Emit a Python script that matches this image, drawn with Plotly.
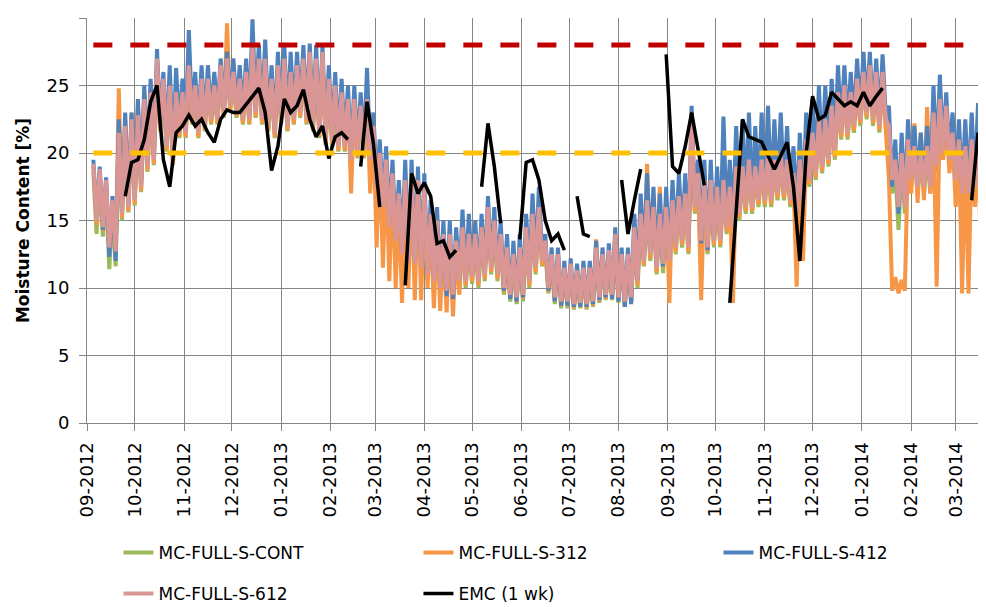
import pandas as pd
import plotly.graph_objects as go

# sampling: one step every 4 days from 2012-09-05; for each step the upper value of the
# daily swing is read at the step date and the lower value two days later
start_date = "2012-09-05"

month_labels = ["09-2012", "10-2012", "11-2012", "12-2012", "01-2013", "02-2013", "03-2013",
                "04-2013", "05-2013", "06-2013", "07-2013", "08-2013", "09-2013", "10-2013",
                "11-2013", "12-2013", "01-2014", "02-2014", "03-2014"]

# MC-FULL-S-CONT
cont_hi = [18.6, 18.2, 17.4, 15.9, 20.9, 21.4, 21.9, 22.2, 23.4, 23.9, 26.4, 24.9, 24.4, 23.9, 23.9, 25.9, 24.4, 24.9, 24.9, 24.4, 25.9, 26.4, 25.4,
           24.9, 25.4, 27.4, 26.4, 26.4, 24.9, 25.9, 26.4, 25.4, 25.9, 26.4, 26.9, 26.4, 26.9, 24.9, 24.4, 23.9, 23.4, 23.4, 22.9, 23.4, 21.4, 19.4, 18.9,
           17.9, 16.4, 17.4, 17.9, 17.4, 16.9, 14.9, 14.4, 13.4, 13.4, 12.9, 13.9, 13.4, 13.4, 13.9, 15.4, 14.4, 13.4, 12.4, 11.9, 12.4, 13.9, 14.9,
           15.4, 12.9, 11.9, 11.9, 10.9, 11.2, 10.7, 10.9, 10.9, 12.4, 11.9, 12.2, 13.4, 11.9, 11.9, 13.9, 14.9, 15.9, 15.4, 14.9, 15.4, 15.9, 16.2, 16.4,
           22.4, 17.9, 17.4, 17.4, 16.9, 17.4, 16.9, 18.4, 18.4, 18.9, 18.4, 18.9, 19.4, 18.9, 19.4, 18.9, 17.9, 18.9, 20.4, 20.9, 21.9, 21.9, 22.9,
           23.9, 24.4, 23.9, 24.9, 25.4, 25.9, 25.4, 25.4, 21.4, 18.9, 19.4, 20.4, 19.9, 19.4, 19.9, 22.4, 23.4, 22.9, 20.9, 20.4, 19.9, 20.4, 19.9, 18.4]
cont_lo = [14.0, 13.8, 11.4, 11.6, 15.0, 15.6, 16.1, 17.1, 18.6, 19.1, 21.6, 20.1, 19.1, 21.1, 21.1, 22.1, 21.1, 21.6, 22.1, 22.1, 22.6, 23.1, 22.6,
           22.1, 22.1, 22.6, 22.1, 21.6, 21.1, 22.1, 21.6, 22.1, 22.6, 22.1, 21.6, 21.1, 20.6, 20.6, 20.1, 20.1, 19.1, 19.6, 19.6, 19.1, 17.1, 15.6, 14.1,
           13.1, 12.1, 11.6, 11.4, 11.1, 10.6, 10.1, 9.6, 9.3, 9.0, 10.0, 10.0, 10.3, 10.0, 10.5, 11.0, 10.5, 9.5, 9.0, 8.8, 9.0, 10.0, 11.0,
           11.6, 9.6, 8.8, 8.5, 8.5, 8.4, 8.5, 8.4, 8.6, 8.9, 9.1, 9.1, 8.9, 8.6, 8.9, 10.0, 11.6, 12.0, 11.0, 11.1, 11.5, 12.5, 13.0, 12.5,
           15.5, 13.0, 12.5, 13.0, 13.0, 14.0, 14.0, 15.0, 15.5, 15.5, 16.0, 16.0, 16.0, 16.5, 16.5, 16.0, 15.0, 15.5, 17.5, 18.0, 18.5, 19.0, 19.5,
           21.0, 21.0, 21.5, 22.0, 22.5, 22.0, 21.5, 22.0, 17.0, 14.3, 15.5, 17.5, 17.0, 17.0, 17.0, 18.5, 19.5, 19.0, 17.5, 16.5, 16.5, 17.0, 16.0, 14.5]

# MC-FULL-S-312
s312_hi = [19.0, 18.6, 17.8, 16.3, 24.8, 22.5, 23.0, 23.5, 24.5, 25.0, 26.5, 25.5, 25.5, 24.5, 24.5, 26.0, 25.0, 25.5, 25.5, 25.5, 26.5, 29.6, 26.0,
           25.5, 26.0, 27.5, 26.5, 26.5, 25.5, 26.0, 26.5, 26.0, 26.0, 26.5, 27.0, 26.5, 27.0, 25.5, 25.0, 24.5, 24.0, 24.0, 23.5, 24.0, 22.0, 20.0, 19.5,
           18.0, 16.5, 17.5, 18.0, 17.5, 17.0, 15.0, 14.5, 13.5, 13.5, 13.0, 14.0, 13.5, 13.5, 14.5, 16.0, 15.0, 13.5, 12.5, 12.0, 12.5, 14.0, 15.5,
           16.0, 13.0, 12.0, 12.0, 11.0, 11.3, 10.8, 11.0, 11.0, 13.6, 12.5, 12.5, 14.0, 12.0, 12.0, 14.5, 16.0, 19.2, 17.0, 17.5, 16.5, 17.0, 16.5, 16.5,
           22.0, 18.0, 17.5, 17.5, 17.0, 17.5, 17.0, 18.5, 18.5, 19.0, 18.5, 19.0, 19.5, 19.0, 19.5, 19.0, 18.0, 19.0, 20.5, 21.0, 22.0, 22.0, 23.0,
           24.0, 24.5, 24.0, 25.0, 25.5, 25.5, 25.0, 25.5, 18.0, 10.8, 10.6, 20.0, 22.2, 21.5, 23.4, 22.0, 23.0, 22.5, 21.0, 20.5, 20.0, 20.5, 20.0, 18.0]
s312_lo = [14.7, 14.2, 12.7, 12.4, 15.2, 15.7, 16.2, 17.2, 18.7, 19.2, 21.7, 20.2, 19.2, 21.2, 21.2, 22.2, 21.2, 21.7, 22.2, 22.2, 22.7, 23.2, 22.7,
           22.2, 22.2, 22.7, 22.2, 21.7, 21.2, 22.2, 21.7, 22.2, 22.7, 22.2, 21.7, 21.2, 20.7, 20.7, 20.2, 20.2, 17.0, 19.7, 19.7, 17.0, 13.0, 11.5, 10.5,
           10.0, 8.9, 10.0, 9.1, 9.1, 10.0, 8.5, 8.3, 8.2, 7.9, 9.5, 10.2, 10.5, 10.2, 10.7, 11.2, 10.7, 9.7, 9.2, 9.0, 9.2, 10.2, 11.2,
           11.7, 9.7, 9.0, 8.7, 8.7, 8.5, 8.6, 8.5, 8.7, 9.0, 9.2, 9.2, 9.0, 8.7, 9.0, 10.2, 11.7, 12.2, 11.2, 11.5, 8.9, 12.7, 13.2, 12.7,
           15.7, 9.1, 12.7, 13.2, 13.2, 14.2, 8.9, 15.2, 15.7, 15.7, 16.2, 16.2, 16.2, 16.7, 16.7, 16.2, 10.1, 12.0, 17.7, 18.2, 18.7, 19.2, 19.7,
           21.2, 21.2, 21.7, 22.2, 22.7, 22.2, 21.7, 22.2, 9.8, 9.6, 9.8, 17.0, 16.3, 16.5, 17.0, 10.1, 19.5, 18.5, 16.0, 9.6, 9.6, 16.0, 12.0, 8.9]

# MC-FULL-S-412
s412_hi = [19.5, 19.0, 18.2, 16.8, 22.5, 23.0, 23.0, 24.0, 25.0, 25.5, 27.7, 26.0, 26.5, 26.3, 25.5, 29.1, 26.0, 26.5, 26.5, 26.0, 27.0, 27.5, 27.0,
           26.5, 27.0, 29.9, 28.0, 28.4, 26.5, 27.5, 28.0, 27.5, 27.5, 28.0, 28.1, 28.0, 28.0, 26.5, 26.0, 25.5, 25.0, 25.0, 24.5, 26.3, 23.0, 21.0, 20.5,
           19.5, 18.0, 19.5, 19.5, 19.0, 18.5, 16.5, 16.0, 15.0, 15.0, 14.5, 15.8, 15.5, 15.0, 15.5, 16.8, 16.0, 15.0, 14.0, 13.5, 14.0, 15.5, 17.0,
           17.5, 14.0, 13.0, 13.0, 12.0, 12.2, 11.8, 12.0, 12.0, 13.5, 13.0, 13.3, 14.5, 13.0, 13.0, 15.5, 17.0, 18.5, 17.5, 17.0, 17.5, 18.0, 18.5, 18.5,
           23.5, 19.5, 19.5, 19.5, 19.0, 22.7, 19.5, 22.0, 22.5, 23.0, 22.0, 23.0, 23.5, 22.5, 23.0, 22.0, 20.5, 21.5, 23.0, 24.0, 25.0, 25.0, 25.5,
           26.5, 26.5, 26.0, 27.0, 27.5, 27.5, 27.0, 27.3, 23.5, 21.0, 21.5, 22.5, 22.0, 21.5, 22.0, 25.0, 25.8, 24.5, 23.0, 22.5, 22.5, 23.0, 23.7, 20.0]
s412_lo = [15.2, 14.3, 12.3, 12.0, 15.8, 16.3, 16.8, 17.8, 19.3, 19.8, 22.3, 20.8, 19.8, 21.8, 21.8, 22.8, 21.8, 22.3, 22.8, 22.8, 23.3, 23.8, 23.3,
           22.8, 22.8, 23.3, 22.8, 22.3, 21.8, 22.8, 22.3, 22.8, 23.3, 22.8, 22.3, 21.8, 21.3, 21.3, 20.8, 20.8, 19.8, 20.3, 20.3, 19.8, 17.8, 16.3, 14.8,
           13.8, 12.8, 12.3, 12.1, 11.8, 11.3, 10.8, 10.2, 9.4, 9.2, 10.6, 10.7, 11.0, 10.7, 11.2, 11.7, 11.1, 9.8, 9.2, 9.0, 9.3, 10.7, 11.8,
           12.3, 9.8, 9.0, 8.7, 8.7, 8.6, 8.6, 8.6, 8.8, 9.1, 9.3, 9.2, 9.0, 8.6, 8.8, 10.6, 12.2, 12.7, 11.6, 11.6, 12.2, 13.3, 13.8, 13.3,
           16.3, 13.3, 12.8, 13.6, 13.8, 14.8, 14.8, 15.8, 16.3, 16.3, 16.8, 16.8, 16.8, 17.3, 17.3, 16.8, 15.5, 16.3, 18.3, 18.8, 19.3, 19.8, 20.3,
           21.8, 21.8, 22.3, 22.8, 23.3, 22.8, 22.3, 22.8, 17.5, 15.5, 16.3, 18.3, 17.8, 17.8, 17.8, 19.3, 20.3, 19.8, 18.3, 17.3, 17.3, 17.8, 14.5, 13.0]

# MC-FULL-S-612
s612_hi = [19.2, 18.8, 18.0, 16.5, 21.5, 22.0, 22.5, 22.8, 24.0, 24.5, 27.0, 25.5, 25.0, 24.5, 24.5, 26.5, 25.0, 25.5, 25.5, 25.0, 26.5, 27.0, 26.0,
           25.5, 26.0, 28.0, 27.0, 27.0, 25.5, 26.5, 27.0, 26.0, 26.5, 27.0, 27.5, 27.0, 27.5, 25.5, 25.0, 24.5, 24.0, 24.0, 23.5, 24.0, 22.0, 20.0, 19.5,
           18.5, 17.0, 18.0, 18.5, 18.0, 17.5, 15.5, 15.0, 14.0, 14.0, 13.5, 14.5, 14.0, 14.0, 14.5, 16.0, 15.0, 14.0, 13.0, 12.5, 13.0, 14.5, 15.5,
           16.0, 13.5, 12.5, 12.5, 11.5, 11.8, 11.3, 11.5, 11.5, 13.0, 12.5, 12.8, 14.0, 12.5, 12.5, 14.5, 15.5, 16.5, 16.0, 15.5, 16.0, 16.5, 16.8, 17.0,
           23.0, 18.5, 18.0, 18.0, 17.5, 18.0, 17.5, 19.0, 19.0, 19.5, 19.0, 19.5, 20.0, 19.5, 20.0, 19.5, 18.5, 19.5, 21.0, 21.5, 22.5, 22.5, 23.5,
           24.5, 25.0, 24.5, 25.5, 26.0, 26.5, 26.0, 26.0, 22.0, 19.5, 20.0, 21.0, 20.5, 20.0, 20.5, 23.0, 24.0, 23.5, 21.5, 21.0, 20.5, 21.0, 20.5, 19.0]
s612_lo = [15.0, 14.5, 13.0, 12.7, 15.5, 16.0, 16.5, 17.5, 19.0, 19.5, 22.0, 20.5, 19.5, 21.5, 21.5, 22.5, 21.5, 22.0, 22.5, 22.5, 23.0, 23.5, 23.0,
           22.5, 22.5, 23.0, 22.5, 22.0, 21.5, 22.5, 22.0, 22.5, 23.0, 22.5, 22.0, 21.5, 21.0, 21.0, 20.5, 20.5, 19.5, 20.0, 20.0, 19.5, 17.5, 16.0, 14.5,
           13.5, 12.5, 12.0, 11.8, 11.5, 11.0, 10.5, 10.0, 9.8, 9.5, 10.5, 10.5, 10.8, 10.5, 11.0, 11.5, 11.0, 10.0, 9.5, 9.3, 9.5, 10.5, 11.5,
           12.0, 10.0, 9.3, 9.0, 9.0, 8.8, 8.9, 8.8, 9.0, 9.3, 9.5, 9.5, 9.3, 9.0, 9.3, 10.5, 12.0, 12.5, 11.5, 11.8, 12.0, 13.0, 13.5, 13.0,
           16.0, 13.5, 13.0, 13.5, 13.5, 14.5, 14.5, 15.5, 16.0, 16.0, 16.5, 16.5, 16.5, 17.0, 17.0, 16.5, 15.5, 16.0, 18.0, 18.5, 19.0, 19.5, 20.0,
           21.5, 21.5, 22.0, 22.5, 23.0, 22.5, 22.0, 22.5, 18.0, 16.0, 16.0, 18.0, 17.5, 17.5, 17.5, 19.0, 20.0, 19.5, 18.0, 17.0, 17.0, 17.5, 16.5, 15.0]

# EMC (1 wk), one value per 4-day step, None where the record has gaps
emc = [None, None, None, None, None, 16.8, 19.3, 19.5, 21.0, 23.8, 25.0, 19.5, 17.5, 21.5, 22.0, 22.8, 22.0, 22.5, 21.5, 20.8, 22.5, 23.2, 23.0,
       23.0, 23.6, 24.2, 24.8, 23.0, 18.7, 20.5, 24.0, 23.0, 23.5, 24.7, 22.5, 21.2, 22.0, 19.6, 21.2, 21.5, 21.0, None, 19.0, 23.8, 20.7, 16.0, None,
       None, None, 10.2, 18.5, 17.0, 17.8, 16.8, 13.3, 13.5, 12.3, 12.8, None, None, None, 17.5, 22.2, 19.0, 14.8, None, None, 13.6, 19.3, 19.5,
       18.0, 15.0, 13.5, 14.0, 12.8, None, 16.8, 14.0, 13.8, None, None, None, None, 18.0, 14.0, 16.5, 18.8, None, None, None, 27.3, 19.0, 18.5, 20.5,
       23.0, 20.3, 17.6, None, None, None, 8.9, 15.5, 22.5, 21.2, 21.0, 20.8, 19.8, 18.8, 19.8, 20.8, 17.5, 12.0, 20.0, 24.2, 22.5, 22.8, 24.5,
       24.0, 23.5, 23.8, 23.5, 24.5, 23.5, 24.2, 24.8, None, None, None, None, None, None, None, None, None, None, None, None, None, 16.5, 21.5, 18.5]

# reference levels
limit_dates = ["2012-09-05", "2014-03-09"]
upper_limit = [28, 28]
lower_limit = [20, 20]


def zigzag(hi, lo):
    out = []
    for h, l in zip(hi, lo):
        out += [h, l]
    return out


dates2 = pd.date_range(start_date, periods=2 * len(s612_hi), freq="2D")
dates4 = pd.date_range(start_date, periods=len(emc), freq="4D")

series = [
    ("MC-FULL-S-CONT", cont_hi, cont_lo, "#9BBB59", "legend"),
    ("MC-FULL-S-312", s312_hi, s312_lo, "#F79646", "legend"),
    ("MC-FULL-S-412", s412_hi, s412_lo, "#4F81BD", "legend"),
    ("MC-FULL-S-612", s612_hi, s612_lo, "#D99694", "legend2"),
]

fig = go.Figure()

for name, hi, lo, color, leg in series:
    fig.add_trace(go.Scatter(
        x=dates2, y=zigzag(hi, lo), mode="lines", name=name, legend=leg,
        line=dict(color=color, width=4)
    ))

fig.add_trace(go.Scatter(
    x=dates4, y=emc, mode="lines", name="EMC (1 wk)", legend="legend2",
    line=dict(color="black", width=3.5)
))

# 阈值线
fig.add_trace(go.Scatter(x=limit_dates, y=upper_limit, mode="lines", showlegend=False,
                         line=dict(color="#C00000", width=5, dash="19px,18px")))
fig.add_trace(go.Scatter(x=limit_dates, y=lower_limit, mode="lines", showlegend=False,
                         line=dict(color="#FFC000", width=5, dash="19px,18px")))

tick_dates = [pd.to_datetime("01-" + s, format="%d-%m-%Y") for s in month_labels]

font_family = "DejaVu Sans, sans-serif"

legend_style = dict(
    orientation="h", xanchor="left", yanchor="middle", x=0.035,
    entrywidth=255, entrywidthmode="pixels",
    font=dict(family=font_family, size=17, color="black"),
    bgcolor="rgba(0,0,0,0)", borderwidth=0
)

# the page puts the figure 8 px in from the top-left corner
fig.update_layout(
    width=978, height=599,
    margin=dict(l=79, r=0, t=10, b=184, autoexpand=False),
    plot_bgcolor="white", paper_bgcolor="white",
    font=dict(family=font_family, size=17, color="black"),
    legend=dict(legend_style, y=-0.321),
    legend2=dict(legend_style, y=-0.422),
    showlegend=True,
)

fig.update_xaxes(
    type="date", range=["2012-09-01", "2014-03-20"], automargin=False,
    tickmode="array", tickvals=tick_dates, ticktext=month_labels,
    tickangle=-90, tickfont=dict(size=18),
    ticks="outside", ticklen=7, tickcolor="#868686", ticklabelstandoff=4,
    showgrid=True, gridcolor="#868686", gridwidth=1,
    showline=True, linecolor="#868686", linewidth=1,
    zeroline=False
)
fig.update_yaxes(
    range=[0, 30], tickmode="array", tickvals=[0, 5, 10, 15, 20, 25, 30], automargin=False,
    tickfont=dict(size=18),
    ticks="outside", ticklen=7, tickcolor="#868686", ticklabelstandoff=6,
    showgrid=True, gridcolor="#868686", gridwidth=1,
    showline=True, linecolor="#868686", linewidth=1,
    zeroline=False,
    title=dict(text="<b>Moisture Content [%]</b>", font=dict(size=17), standoff=12)
)

fig.write_html("out.html")
